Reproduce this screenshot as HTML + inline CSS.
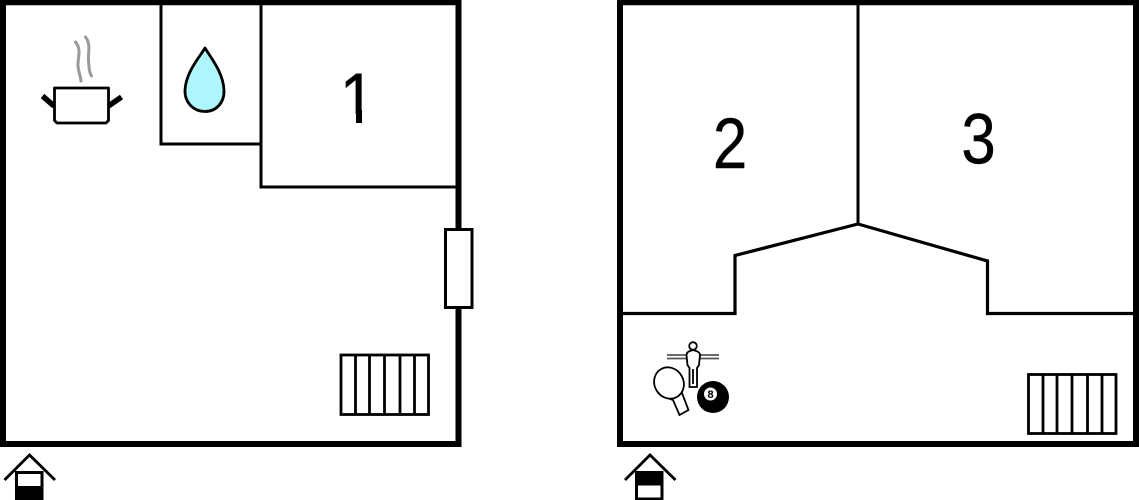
<!DOCTYPE html>
<html>
<head>
<meta charset="utf-8">
<style>
html,body{margin:0;padding:0;background:#fff;width:1139px;height:500px;overflow:hidden}
svg{display:block}
text{font-family:"Liberation Sans",sans-serif;fill:#000;stroke:#000;stroke-width:.4}
</style>
</head>
<body>
<svg width="1139" height="500" viewBox="0 0 1139 500" xmlns="http://www.w3.org/2000/svg">
<rect width="1139" height="500" fill="#fff"/>

<!-- Left plan walls -->
<g fill="none" stroke="#000" stroke-linejoin="miter">
  <path d="M3 -3V444H458.500V-3" stroke-width="6"/>
  <path d="M0 2.500H461" stroke-width="5.500"/>
  <path d="M161 5V144H261" stroke-width="3"/>
  <path d="M261 5V187H458" stroke-width="3"/>
</g>
<rect x="445.500" y="229.500" width="26.500" height="78" fill="#fff" stroke="#000" stroke-width="3"/>
<g fill="none" stroke="#000" stroke-width="2.800">
  <rect x="341" y="355" width="87.500" height="59.500"/>
  <path d="M355.500 355V414.500M369.500 355V414.500M384.500 355V414.500M400 355V414.500M414.500 355V414.500"/>
</g>

<!-- Pot -->
<path d="M54.500 88H108.500V120.500L106 123H57L54.500 120.500Z" fill="#fff" stroke="#000" stroke-width="2.800" stroke-linejoin="round"/>
<path d="M42.500 96L54 106M121.500 97L108.500 106" fill="none" stroke="#000" stroke-width="5.500"/>
<path d="M75.500 42C82 50 77.500 58 78 66C78.500 72 80.500 76 81 81M85.500 37C91 44 88 52 88.500 60C89 67 89 72 91.500 76" fill="none" stroke="#999" stroke-width="3" stroke-linecap="round"/>

<!-- Drop -->
<path d="M205 48C199 58 186 72 185 90C184.500 103 194 111.500 205 111.500C216 111.500 224.500 103 224 90C223 72 211 58 205 48Z" fill="#aef6fb" stroke="#000" stroke-width="2.800" stroke-linejoin="round"/>

<!-- Room 1: the foot of the glyph is hidden so the numeral has a plain stem -->
<text transform="translate(357.500 123) scale(.9 1)" font-size="71" text-anchor="middle">1</text>
<rect x="335" y="114" width="40" height="12" fill="#fff"/>
<rect x="356" y="110" width="6" height="13" fill="#000"/>

<!-- Right plan walls -->
<g fill="none" stroke="#000">
  <path d="M620 0V444H1139" stroke-width="6"/>
  <path d="M617 2.500H1139" stroke-width="5.500"/>
  <path d="M1136 0V447" stroke-width="6"/>
  <path d="M858 5V224" stroke-width="3"/>
  <path d="M623 313.500H735V255.500L858 224L987.500 261V313.500H1134" stroke-width="3.200" stroke-linejoin="miter"/>
</g>
<text transform="translate(730 168) scale(.87 1)" font-size="71" text-anchor="middle">2</text>
<text transform="translate(978.500 163.500) scale(.87 1)" font-size="71" text-anchor="middle">3</text>

<g fill="none" stroke="#000" stroke-width="2.800">
  <rect x="1028.500" y="374.500" width="87.500" height="59"/>
  <path d="M1043 374.500V433.500M1057 374.500V433.500M1072 374.500V433.500M1087.500 374.500V433.500M1102 374.500V433.500"/>
</g>

<!-- Game icons -->
<g fill="none" stroke="#000" stroke-width="1.800">
  <path d="M667 355H686M667 358.500H686M700 355H719M700 358.500H719" stroke="#555"/>
  <path d="M693 350C689.500 351 686.500 352 686.500 355L687.500 365L689.500 368V387H697V368L699 365L700 355C700 352 696.500 351 693 350Z" fill="#fff"/>
  <circle cx="693" cy="346" r="3.800" fill="#fff"/>
  <path d="M693 369V384"/>
  <path d="M668 398L682 393L688.500 410L679.500 415L673 400Z" fill="#fff"/>
  <ellipse cx="669" cy="383" rx="14.500" ry="16" transform="rotate(-30 669 383)" fill="#fff"/>
</g>
<circle cx="713" cy="397" r="16" fill="#000"/>
<circle cx="710.500" cy="394" r="6.500" fill="#fff"/>
<text x="710.500" y="398" font-size="11" font-weight="bold" text-anchor="middle" style="stroke:none">8</text>

<!-- House icon left -->
<path d="M4.500 480L29.500 455L55 480" fill="none" stroke="#000" stroke-width="2.800"/>
<path d="M16.500 472.500H42V500H16.500Z" fill="#fff" stroke="#000" stroke-width="3"/>
<rect x="15" y="486" width="28.500" height="14" fill="#000"/>

<!-- House icon right -->
<path d="M625 480L650 455L675.500 480" fill="none" stroke="#000" stroke-width="2.800"/>
<path d="M636.500 472.500H662V499H636.500Z" fill="#fff" stroke="#000" stroke-width="3"/>
<rect x="635" y="471" width="28.500" height="14.500" fill="#000"/>
</svg>
</body>
</html>
